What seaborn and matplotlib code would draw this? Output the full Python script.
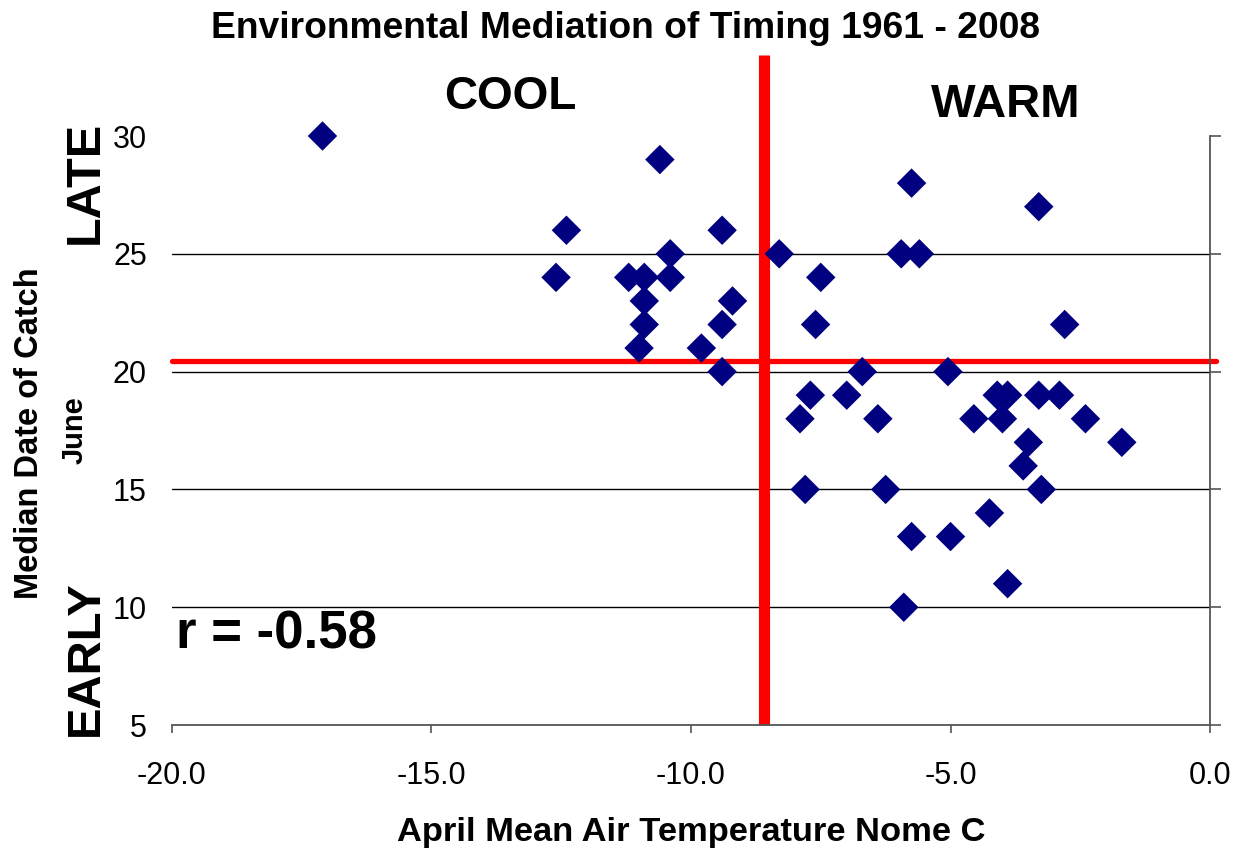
import numpy as np
import pandas as pd
import seaborn as sns
import matplotlib
matplotlib.use("Agg")
import matplotlib.pyplot as plt

# April mean air temperature (Nome, C) and median date of catch (June), 1961-2008
temp_c = [-17.1, -10.6, -12.4, -12.6, -9.4, -10.4, -8.3, -11.2, -10.9, -10.4,
          -10.9, -9.2, -10.9, -9.4, -11.0, -9.8, -9.4,
          -5.75, -3.3, -5.95, -5.6, -7.5, -7.6, -2.8,
          -6.7, -5.05, -7.7, -7.0, -4.1, -3.9, -3.3, -2.9,
          -7.9, -6.4, -4.55, -4.0, -2.4, -3.5, -1.7, -3.6,
          -7.8, -6.25, -3.25, -4.25, -5.75, -5.0, -3.9, -5.9]
june_day = [30, 29, 26, 24, 26, 25, 25, 24, 24, 24,
            23, 23, 22, 22, 21, 21, 20,
            28, 27, 25, 25, 24, 22, 22,
            20, 20, 19, 19, 19, 19, 19, 19,
            18, 18, 18, 18, 18, 17, 17, 16,
            15, 15, 15, 14, 13, 13, 11, 10]

cool_warm_split = -8.6
median_split = 20.45
r_value = -0.58

x_ticks = [-20.0, -15.0, -10.0, -5.0, 0.0]
y_ticks = [5, 10, 15, 20, 25, 30]

df = pd.DataFrame({"temp": temp_c, "day": june_day})

sns.set_style("white")
plt.rcParams["font.family"] = ["Liberation Sans", "DejaVu Sans"]
plt.rcParams["axes.unicode_minus"] = False
plt.rcParams["text.color"] = "black"

fig = plt.figure(figsize=(12.38, 8.5), dpi=100)
ax = fig.add_axes([0.1389, 0.147, 0.8385, 0.693])

# gridlines
for yv in y_ticks[1:-1]:
    ax.axhline(yv, color="black", lw=1.0, zorder=1)

# red split lines
ax.axhline(median_split, xmin=0, xmax=1.006, color="#ff0000", lw=3.8,
           zorder=2, clip_on=False)
ax.plot([cool_warm_split, cool_warm_split], [5, 33.45], color="#ff0000",
        lw=8, zorder=2, clip_on=False, solid_capstyle="butt")

sns.scatterplot(data=df, x="temp", y="day", marker="D", color="#000080",
                s=225, edgecolor="none", linewidth=0, ax=ax, zorder=3,
                legend=False)
for coll in ax.collections:
    coll.set_clip_on(False)

ax.set_xlim(-20, 0)
ax.set_ylim(5, 30)
ax.set_xticks(x_ticks)
ax.set_xticklabels([f"{v:.1f}" for v in x_ticks], fontsize=22, color="black")
ax.set_yticks(y_ticks)
ax.set_yticklabels([str(v) for v in y_ticks], fontsize=22, color="black")

for side in ["left", "top"]:
    ax.spines[side].set_visible(False)
for side in ["right", "bottom"]:
    ax.spines[side].set_color("#555555")
    ax.spines[side].set_linewidth(1.3)

ax.tick_params(axis="y", left=False, right=True, labelleft=True,
               labelright=False, direction="out", length=8, width=1.2,
               color="#555555", pad=10)
ax.tick_params(axis="x", bottom=True, direction="out", length=6, width=1.2,
               color="#555555", pad=20)

ax.set_xlabel("")
ax.set_ylabel("")

fig.text(0.505, 0.967, "Environmental Mediation of Timing 1961 - 2008",
         ha="center", va="center", fontsize=26.8, fontweight="bold")
fig.text(0.412, 0.886, "COOL", ha="center", va="center", fontsize=33,
         fontweight="bold")
fig.text(0.812, 0.876, "WARM", ha="center", va="center", fontsize=34,
         fontweight="bold")
fig.text(0.069, 0.786, "LATE", ha="center", va="center", fontsize=35,
         fontweight="bold", rotation=90)
fig.text(0.069, 0.226, "EARLY", ha="center", va="center", fontsize=34,
         fontweight="bold", rotation=90)
fig.text(0.024, 0.49, "Median Date of Catch", ha="center", va="center",
         fontsize=23.5, fontweight="bold", rotation=90)
fig.text(0.060, 0.494, "June", ha="center", va="center", fontsize=21,
         fontweight="bold", rotation=90)
fig.text(0.223, 0.253, f"r = {r_value:.2f}", ha="center", va="center",
         fontsize=38, fontweight="bold")
fig.text(0.558, 0.02, "April Mean Air Temperature Nome C", ha="center",
         va="center", fontsize=24.8, fontweight="bold")

fig.savefig("out.png", dpi=100)
